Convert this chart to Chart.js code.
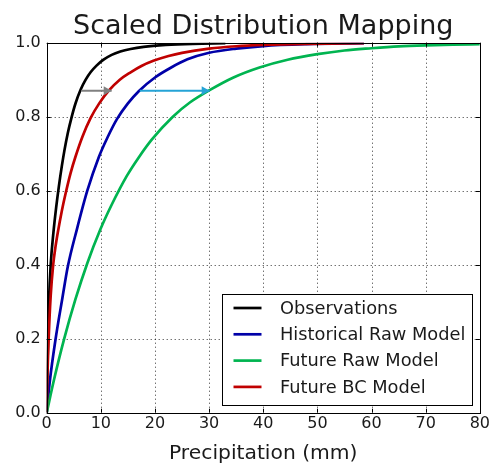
<!DOCTYPE html>
<html><head><meta charset="utf-8">
<script src="https://cdn.jsdelivr.net/npm/chart.js@4.4.0/dist/chart.umd.min.js"></script>
<style>html,body{margin:0;padding:0;background:#fff;} #wrap{width:492px;height:466px;position:relative;}</style>
</head><body><div id="wrap"><canvas id="c" width="492" height="466"></canvas></div>
<script>
const titleText = 'Scaled Distribution Mapping';
const xAxisTitle = 'Precipitation (mm)';
const xTicks = [0, 10, 20, 30, 40, 50, 60, 70, 80];
const yTicks = [0.0, 0.2, 0.4, 0.6, 0.8, 1.0];
const seriesNames = ['Observations', 'Historical Raw Model', 'Future Raw Model', 'Future BC Model'];

const obsX = [0, 0.1, 0.25, 0.42, 0.74, 1.25, 1.75, 2.26, 2.8, 3.3, 3.9, 4.5, 5.3, 6.3, 7.2, 8.1, 9.2, 10.5, 12, 13.6, 15.5, 17.9, 22, 27, 33];
const obsY = [0, 0.1, 0.2, 0.3, 0.4, 0.488, 0.555, 0.613, 0.667, 0.711, 0.756, 0.793, 0.835, 0.874, 0.9, 0.92, 0.938, 0.954, 0.967, 0.976, 0.983, 0.9887, 0.9939, 0.997, 0.9985];

const histX = [0, 0.6, 1.65, 2.9, 3.9, 5.6, 7.5, 9.6, 11.2, 13, 15, 17, 20, 23, 26, 30, 35, 40, 48, 58.6];
const histY = [0, 0.088, 0.2, 0.31, 0.395, 0.497, 0.6, 0.69, 0.743, 0.794, 0.836, 0.869, 0.906, 0.933, 0.955, 0.9727, 0.984, 0.991, 0.9959, 0.9985];

const futRawX = [0, 1.35, 3.2, 5.3, 7.5, 9.9, 12, 14.8, 17, 19.4, 23.3, 26.5, 30, 34.5, 39.3, 44.5, 50, 55, 60, 65, 70, 75, 80];
const futRawY = [0, 0.089, 0.198, 0.306, 0.404, 0.495, 0.562, 0.64, 0.69, 0.738, 0.8, 0.839, 0.871, 0.906, 0.933, 0.954, 0.969, 0.979, 0.985, 0.99, 0.993, 0.995, 0.996];

const futBcX = [0, 0.12, 0.36, 0.73, 1.2, 1.6, 2.1, 2.8, 3.5, 4.4, 5.3, 6.6, 8.1, 9.7, 11.5, 13.5, 15.5, 17.5, 19.7, 22.5, 25, 30, 35, 40, 48, 58.6];
const futBcY = [0, 0.09, 0.2, 0.314, 0.4, 0.446, 0.491, 0.546, 0.593, 0.647, 0.691, 0.746, 0.796, 0.836, 0.871, 0.9, 0.92, 0.937, 0.951, 0.964, 0.9727, 0.984, 0.9904, 0.9939, 0.997, 0.9986];

const arrowLevel = 0.87;
const grayArrowX = [6.4, 12.0];
const blueArrowX = [17.2, 30.1];

const seriesColors = ['#000000', '#0000a8', '#00b450', '#c00000'];
const arrowColors = ['#808080', '#25a3d6'];

const FONT = '"DejaVu Sans", "Liberation Sans", sans-serif';
const TEXT = '#1a1a1a';

function pts(xs, ys) { return xs.map((x, i) => ({x: x, y: ys[i]})); }

const seriesData = [pts(obsX, obsY), pts(histX, histY), pts(futRawX, futRawY), pts(futBcX, futBcY)];

const datasets = seriesNames.map((name, i) => ({
  label: name,
  data: seriesData[i],
  borderColor: seriesColors[i],
  backgroundColor: seriesColors[i],
  borderWidth: 2.7,
  pointRadius: 0,
  cubicInterpolationMode: 'monotone',
  fill: false,
  order: 10 - i
}));
[grayArrowX, blueArrowX].forEach((ax, i) => {
  datasets.push({
    label: '__arrow' + i,
    isArrow: true,
    data: ax.map(x => ({x: x, y: arrowLevel})),
    borderColor: arrowColors[i],
    backgroundColor: arrowColors[i],
    borderWidth: 2,
    pointRadius: 0,
    fill: false,
    order: 0
  });
});

const decor = {
  id: 'decor',
  beforeDatasetsDraw(chart) {
    const {ctx, chartArea: a, scales} = chart;
    ctx.save();
    ctx.strokeStyle = 'rgba(0,0,0,0.8)';
    ctx.lineWidth = 1;
    ctx.setLineDash([1, 3]);
    xTicks.forEach(v => {
      if (v === xTicks[0] || v === xTicks[xTicks.length - 1]) return;
      const px = Math.round(scales.x.getPixelForValue(v)) + 0.5;
      ctx.beginPath(); ctx.moveTo(px, a.top); ctx.lineTo(px, a.bottom); ctx.stroke();
    });
    yTicks.forEach(v => {
      if (v === yTicks[0] || v === yTicks[yTicks.length - 1]) return;
      const py = Math.round(scales.y.getPixelForValue(v)) + 0.5;
      ctx.beginPath(); ctx.moveTo(a.left, py); ctx.lineTo(a.right, py); ctx.stroke();
    });
    ctx.restore();
  },
  afterDraw(chart) {
    const {ctx, chartArea: a, scales} = chart;
    ctx.save();
    chart.data.datasets.forEach((ds) => {
      if (!ds.isArrow) return;
      const p1 = ds.data[ds.data.length - 1];
      const x1 = scales.x.getPixelForValue(p1.x), y1 = scales.y.getPixelForValue(p1.y);
      ctx.fillStyle = ds.borderColor;
      ctx.beginPath();
      ctx.moveTo(x1, y1);
      ctx.lineTo(x1 - 8, y1 - 4.5);
      ctx.lineTo(x1 - 8, y1 + 4.5);
      ctx.closePath();
      ctx.fill();
    });
    ctx.strokeStyle = '#000';
    ctx.lineWidth = 1;
    ctx.strokeRect(Math.round(a.left) + 0.5, Math.round(a.top) + 0.5, Math.round(a.right) - Math.round(a.left), Math.round(a.bottom) - Math.round(a.top));
    const TL = 4;
    xTicks.forEach(v => {
      const px = Math.round(scales.x.getPixelForValue(v)) + 0.5;
      ctx.beginPath();
      ctx.moveTo(px, a.bottom); ctx.lineTo(px, a.bottom - TL);
      ctx.moveTo(px, a.top); ctx.lineTo(px, a.top + TL);
      ctx.stroke();
    });
    yTicks.forEach(v => {
      const py = Math.round(scales.y.getPixelForValue(v)) + 0.5;
      ctx.beginPath();
      ctx.moveTo(a.left, py); ctx.lineTo(a.left + TL, py);
      ctx.moveTo(a.right, py); ctx.lineTo(a.right - TL, py);
      ctx.stroke();
    });
    ctx.fillStyle = TEXT;
    ctx.textAlign = 'center';
    ctx.textBaseline = 'alphabetic';
    ctx.font = '27px ' + FONT;
    ctx.fillText(titleText, (a.left + a.right) / 2, 34);
    ctx.font = '20.3px ' + FONT;
    ctx.fillText(xAxisTitle, (a.left + a.right) / 2, 459);
    const bx = 222.5, by = 294.5, bw = 250, bh = 111;
    ctx.fillStyle = '#fff';
    ctx.fillRect(bx, by, bw, bh);
    ctx.strokeStyle = '#000';
    ctx.lineWidth = 1;
    ctx.strokeRect(bx, by, bw, bh);
    ctx.font = '17.8px ' + FONT;
    ctx.textAlign = 'left';
    ctx.textBaseline = 'middle';
    let row = 0;
    chart.data.datasets.forEach(ds => {
      if (ds.isArrow) return;
      const cy = 308 + row * 26.3;
      ctx.strokeStyle = ds.borderColor;
      ctx.lineWidth = 2.7;
      ctx.beginPath(); ctx.moveTo(233.5, cy); ctx.lineTo(261.5, cy); ctx.stroke();
      ctx.fillStyle = TEXT;
      ctx.fillText(ds.label, 280, cy + 1);
      row++;
    });
    ctx.restore();
  }
};

new Chart(document.getElementById('c'), {
  type: 'line',
  data: {datasets: datasets},
  options: {
    responsive: false,
    animation: false,
    devicePixelRatio: 1,
    layout: {padding: {top: 42.7, right: 10.6, left: 0, bottom: 0}},
    plugins: {legend: {display: false}, title: {display: false}, tooltip: {enabled: false}},
    scales: {
      x: {
        type: 'linear', min: 0, max: 80,
        afterBuildTicks: s => { s.ticks = xTicks.map(v => ({value: v})); },
        afterFit: s => { s.height = 53.3; },
        ticks: {color: TEXT, font: {family: FONT, size: 16}, padding: 2, maxRotation: 0, autoSkip: false, callback: v => String(v)},
        grid: {display: false, drawTicks: false},
        border: {display: false}
      },
      y: {
        type: 'linear', min: 0, max: 1,
        afterBuildTicks: s => { s.ticks = yTicks.map(v => ({value: v})); },
        afterFit: s => { s.width = 46.7; },
        ticks: {color: TEXT, font: {family: FONT, size: 16}, padding: 6, autoSkip: false, callback: v => Number(v).toFixed(1)},
        grid: {display: false, drawTicks: false},
        border: {display: false}
      }
    }
  },
  plugins: [decor]
});
</script></body></html>
